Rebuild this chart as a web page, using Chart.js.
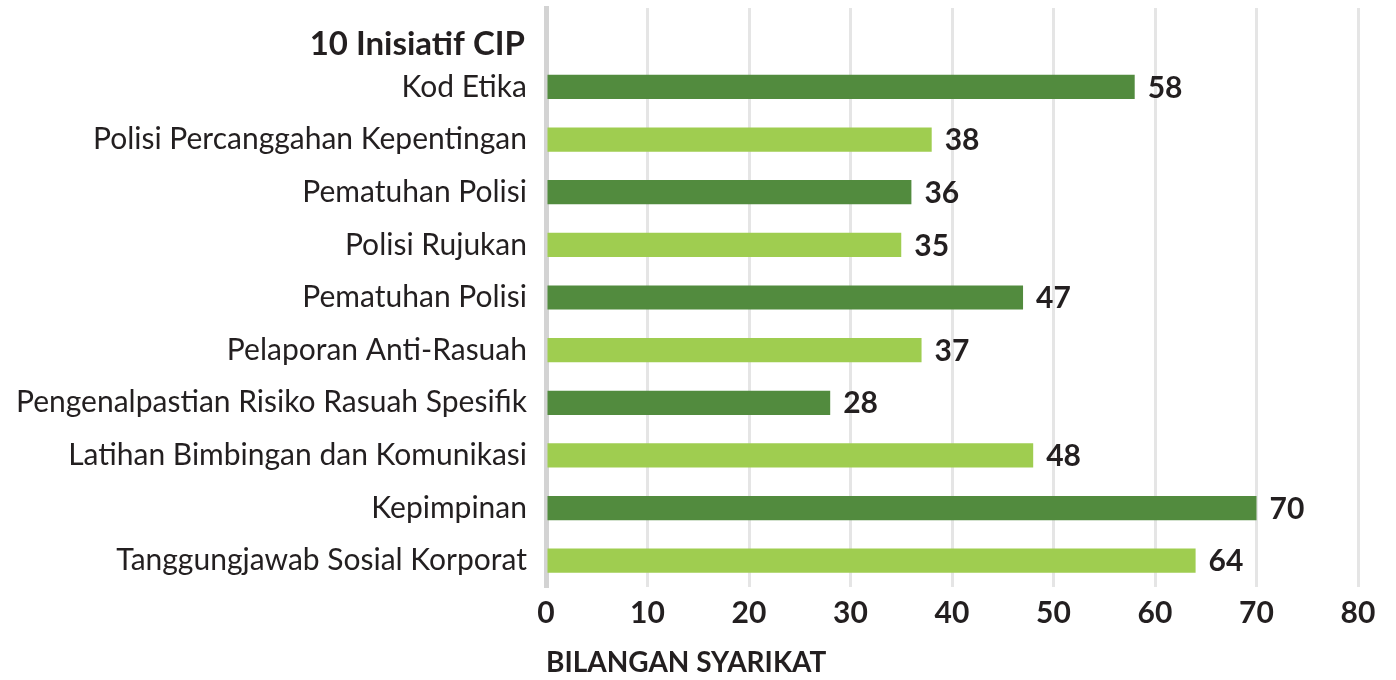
<!DOCTYPE html>
<html>
<head>
<meta charset="utf-8">
<script src="https://cdn.jsdelivr.net/npm/chart.js@4.4.0/dist/chart.umd.min.js"></script>
<style>
  html, body { margin: 0; padding: 0; background: #fff; }
  #wrap { width: 1396px; height: 680px; position: relative; }
</style>
</head>
<body>
<div id="wrap"><canvas id="bar-chart"></canvas></div>
<script>
// Chart data
var headerLabel = "10 Inisiatif CIP";
var categories = [
    "Kod Etika",
    "Polisi Percanggahan Kepentingan",
    "Pematuhan Polisi",
    "Polisi Rujukan",
    "Pematuhan Polisi",
    "Pelaporan Anti-Rasuah",
    "Pengenalpastian Risiko Rasuah Spesifik",
    "Latihan Bimbingan dan Komunikasi",
    "Kepimpinan",
    "Tanggungjawab Sosial Korporat"
];
var values = [58, 38, 36, 35, 47, 37, 28, 48, 70, 64];
var xTicks = [0, 10, 20, 30, 40, 50, 60, 70, 80];
var axisTitle = "BILANGAN SYARIKAT";

var darkGreen = "#528b3e";
var lightGreen = "#9fcd50";
var textColor = "#231f20";
var fontFamily = "Lato, 'Noto Sans', sans-serif";

// first row is kept empty for the header text
var labels = [""].concat(categories);
var data = [null].concat(values);
var colors = [null].concat(values.map(function(v, i){ return i % 2 === 0 ? darkGreen : lightGreen; }));

// value labels at the end of each bar + header text
var extrasPlugin = {
    id: "extras",
    afterDatasetsDraw: function(chart) {
        var ctx = chart.ctx;
        var meta = chart.getDatasetMeta(0);
        ctx.save();
        ctx.fillStyle = textColor;
        ctx.font = "bold 30px " + fontFamily;
        ctx.textAlign = "left";
        ctx.textBaseline = "middle";
        meta.data.forEach(function(bar, i) {
            if (data[i] === null) return;
            ctx.fillText(String(data[i]), bar.x + 13, bar.y + 1);
        });
        // header above the category labels
        var yScale = chart.scales.y;
        ctx.textAlign = "right";
        ctx.font = "bold 33px " + fontFamily;
        ctx.fillText(headerLabel, yScale.right - 21, 44);
        ctx.restore();
    }
};

var config = {
    type: "bar",
    data: {
        labels: labels,
        datasets: [{
            data: data,
            backgroundColor: colors,
            barPercentage: 0.46,
            categoryPercentage: 1
        }]
    },
    options: {
        indexAxis: "y",
        responsive: true,
        maintainAspectRatio: false,
        animation: false,
        layout: { padding: { top: 8, right: 38, left: 0, bottom: 0 } },
        plugins: {
            legend: { display: false },
            tooltip: { enabled: false }
        },
        scales: {
            x: {
                min: 0,
                max: 80,
                afterBuildTicks: function(scale) {
                    scale.ticks = xTicks.map(function(v){ return { value: v }; });
                },
                afterFit: function(scale) { scale.height = 93; },
                border: { display: false },
                grid: { color: "#e5e5e5", lineWidth: 3, drawTicks: false },
                ticks: {
                    color: textColor,
                    padding: 8,
                    font: { family: fontFamily, size: 30, weight: "bold" }
                },
                title: {
                    display: true,
                    text: axisTitle,
                    align: "start",
                    color: textColor,
                    padding: { top: 8, bottom: 0 },
                    font: { family: fontFamily, size: 28, weight: "bold" }
                }
            },
            y: {
                afterFit: function(scale) {
                    scale.width = 546;
                    scale.paddingTop = 0;
                    scale.paddingBottom = 0;
                },
                border: { display: true, color: "#d3d3d3", width: 5 },
                grid: { display: false },
                ticks: {
                    color: textColor,
                    padding: 11,
                    font: { family: fontFamily, size: 30 }
                }
            }
        }
    },
    plugins: [extrasPlugin]
};

var barChart = new Chart(document.getElementById("bar-chart"), config);
</script>
</body>
</html>
